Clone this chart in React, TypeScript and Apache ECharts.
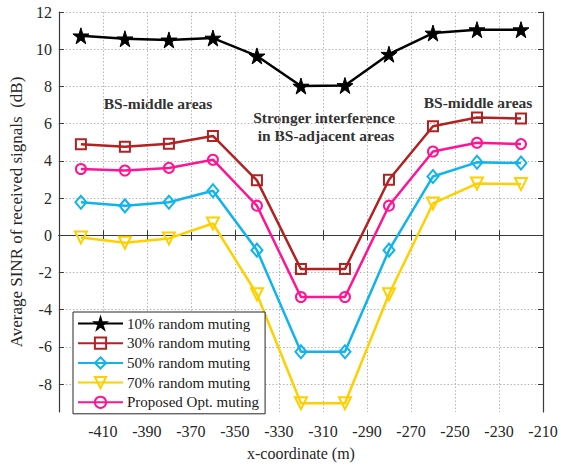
import React, { useEffect, useRef } from "react";
import * as echarts from "echarts";

const xValues = [-420, -400, -380, -360, -340, -320, -300, -280, -260, -240, -220];
const mute10 = [10.72, 10.56, 10.5, 10.6, 9.64, 8.02, 8.05, 9.73, 10.87, 11.05, 11.05];
const mute30 = [4.89, 4.76, 4.92, 5.34, 2.95, -1.82, -1.82, 2.98, 5.86, 6.33, 6.28];
const mute50 = [1.77, 1.58, 1.77, 2.39, -0.8, -6.26, -6.26, -0.8, 3.16, 3.92, 3.88];
const mute70 = [-0.12, -0.4, -0.17, 0.63, -3.17, -9.03, -9.03, -3.17, 1.71, 2.78, 2.75];
const proposed = [3.56, 3.48, 3.62, 4.06, 1.59, -3.32, -3.32, 1.59, 4.5, 4.97, 4.9];
const xTicks = [-410, -390, -370, -350, -330, -310, -290, -270, -250, -230, -210];
const yTicks = [-8, -6, -4, -2, 0, 2, 4, 6, 8, 10, 12];

const FONT = "Liberation Serif";
const STAR = "path://M50,0 L61,35 L98,35 L68,57 L79,91 L50,70 L21,91 L32,57 L2,35 L39,35 Z";

const pairs = (ys: number[]) => ys.map((y, i) => [xValues[i], y]);

export default function App() {
  const ref = useRef<HTMLDivElement>(null);
  useEffect(() => {
    if (!ref.current) return;
    const chart = echarts.init(ref.current, null, { renderer: "svg" });
    const axisColor = "#262626";
    const frameColor = "#3a3a3a";
    const grid = { left: 52, top: 12, right: 18, bottom: 47 };
    const mk = (name: string, data: number[], color: string, symbol: string, size: number | number[], rotate = 0, filled = false) => ({
      name,
      type: "line",
      data: pairs(data),
      symbol,
      symbolSize: size,
      symbolRotate: rotate,
      color,
      lineStyle: { color, width: 2.5 },
      itemStyle: filled
        ? { color, borderColor: color, borderWidth: 1 }
        : { color: "rgba(255,255,255,0)", borderColor: color, borderWidth: 2 },
      emphasis: { disabled: true },
      z: 3,
    });
    const annot = (text: string, x: number, y: number) => ({
      type: "text",
      x,
      y,
      style: { text, fontFamily: FONT, fontSize: 15.5, fontWeight: "bold", fill: "#333333", align: "center", verticalAlign: "middle" },
    });
    chart.setOption({
      animation: false,
      textStyle: { fontFamily: FONT },
      grid,
      xAxis: [
        {
          type: "value",
          min: -430,
          max: -210,
          interval: 20,
          name: "x-coordinate (m)",
          nameLocation: "middle",
          nameGap: 33,
          nameTextStyle: { fontFamily: FONT, fontSize: 16, color: axisColor },
          axisLine: { show: true, lineStyle: { color: frameColor, width: 1.2 } },
          axisTick: { show: true, inside: true, length: 5, customValues: xTicks, lineStyle: { color: frameColor } },
          axisLabel: { customValues: xTicks, fontFamily: FONT, fontSize: 16, color: axisColor, margin: 11 },
          splitLine: { show: true, lineStyle: { color: "#b5b5b5", type: [1.5, 2], width: 1 } },
        },
        {
          type: "value",
          position: "top",
          min: -430,
          max: -210,
          interval: 20,
          axisLine: { show: true, lineStyle: { color: frameColor, width: 1.2 } },
          axisTick: { show: true, inside: true, length: 5, customValues: xTicks, lineStyle: { color: frameColor } },
          axisLabel: { show: false },
          splitLine: { show: false },
        },
      ],
      yAxis: [
        {
          type: "value",
          min: -9.5,
          max: 12,
          interval: 2,
          name: "Average SINR of received signals  (dB)",
          nameLocation: "middle",
          nameGap: 27,
          nameTextStyle: { fontFamily: FONT, fontSize: 17, color: axisColor },
          axisLine: { show: true, lineStyle: { color: frameColor, width: 1.2 } },
          axisTick: { show: true, inside: true, length: 5, customValues: yTicks, lineStyle: { color: frameColor } },
          axisLabel: { customValues: yTicks, fontFamily: FONT, fontSize: 16, color: axisColor, margin: 7 },
          splitLine: { show: true, lineStyle: { color: "#b5b5b5", type: [1.5, 2], width: 1 } },
        },
        {
          type: "value",
          position: "right",
          min: -9.5,
          max: 12,
          interval: 2,
          axisLine: { show: true, lineStyle: { color: frameColor, width: 1.2 } },
          axisTick: { show: true, inside: true, length: 5, customValues: yTicks, lineStyle: { color: frameColor } },
          axisLabel: { show: false },
          splitLine: { show: false },
        },
      ],
      legend: {
        orient: "vertical",
        left: 73,
        top: 312,
        padding: [4, 6, 4, 4],
        itemGap: 4.7,
        itemWidth: 45,
        itemHeight: 14,
        backgroundColor: "#ffffff",
        borderColor: "#262626",
        borderWidth: 1,
        borderRadius: 0,
        textStyle: { fontFamily: FONT, fontSize: 15, color: "#1a1a1a", lineHeight: 14, padding: [0, 0, 0, -1] },
        data: [
          "10% random muting",
          "30% random muting",
          "50% random muting",
          "70% random muting",
          "Proposed Opt. muting",
        ],
      },
      graphic: [
        annot("BS-middle areas", 158, 103),
        annot("BS-middle areas", 478, 102),
        annot("Stronger interference", 324, 117),
        annot("in BS-adjacent areas", 326, 135),
      ],
      series: [
        mk("10% random muting", mute10, "#000000", STAR, 16, 0, true),
        mk("30% random muting", mute30, "#B22222", "rect", 10),
        mk("50% random muting", mute50, "#10B4EC", "diamond", [11, 13]),
        mk("70% random muting", mute70, "#FFD000", "triangle", 12, 180),
        mk("Proposed Opt. muting", proposed, "#FF1493", "circle", 10),
      ],
    });
    return () => chart.dispose();
  }, []);
  return <div ref={ref} style={{ position: "fixed", left: 0, top: 0, width: 561, height: 466, background: "#fff" }} />;
}
